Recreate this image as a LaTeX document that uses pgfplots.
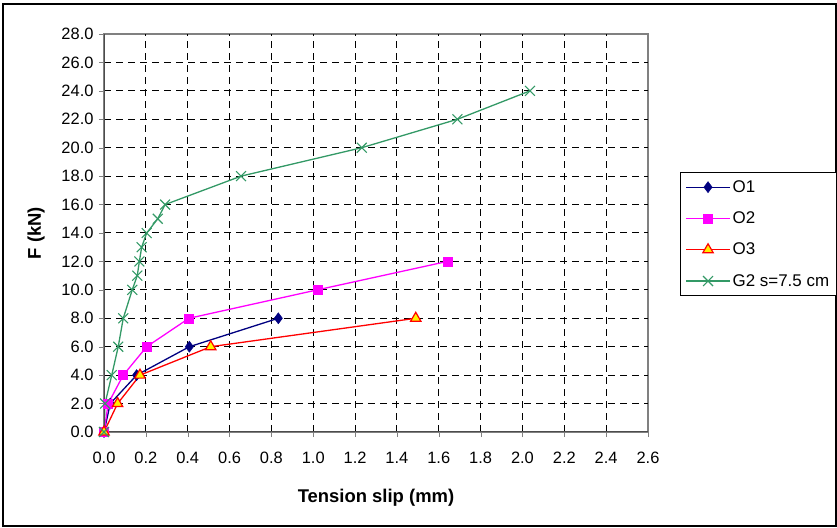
\documentclass[border=0pt]{standalone}
\usepackage{fontspec}
\setmainfont{Liberation Sans}
\usepackage{pgfplots}
\pgfplotsset{compat=1.18}

\definecolor{oone}{RGB}{0,0,128}
\definecolor{otwo}{RGB}{255,0,255}
\definecolor{othree}{RGB}{255,0,0}
\definecolor{gtwo}{RGB}{51,153,102}

\begin{document}
\begin{tikzpicture}
\useasboundingbox (0,0) rectangle (837bp,528bp);
\draw[black, line width=1.2bp] (3bp,2bp) rectangle (836bp,524bp);
\begin{axis}[
  at={(104bp,96bp)}, anchor=south west,
  scale only axis, width=544bp, height=398bp,
  xmin=0, xmax=2.6, ymin=0, ymax=28,
  xtick={0,0.2,0.4,0.6,0.8,1.0,1.2,1.4,1.6,1.8,2.0,2.2,2.4,2.6},
  ytick={0,2,4,6,8,10,12,14,16,18,20,22,24,26,28},
  /pgf/number format/assume math mode=true,
  /pgf/number format/fixed,
  /pgf/number format/fixed zerofill,
  /pgf/number format/precision=1,
  tick label style={font=\fontsize{16.5}{18}\selectfont},
  xticklabel style={yshift=-12bp},
  yticklabel style={xshift=-2bp},
  xtick pos=bottom, ytick pos=left, tick align=outside,
  major tick length=5bp,
  % grid drawn as long inward extra ticks
  extra x ticks={0.2,0.4,0.6,0.8,1.0,1.2,1.4,1.6,1.8,2.0,2.2,2.4},
  extra y ticks={2,4,6,8,10,12,14,16,18,20,22,24,26},
  extra x tick style={xticklabel={}, tick align=inside, major tick length=398bp,
    tick style={black, line width=1bp, dash pattern=on 7bp off 5bp}},
  extra y tick style={yticklabel={}, tick align=inside, major tick length=544bp,
    tick style={black, line width=1bp, dash pattern=on 7bp off 5bp}},
  axis line style={draw=gray, line width=1.5bp},
  xlabel={\bfseries Tension slip (mm)},
  ylabel={\bfseries F (kN)},
  label style={font=\fontsize{18.5}{20}\selectfont},
  xlabel style={yshift=-13bp},
  ylabel style={yshift=5bp},
  legend style={at={(1.0588,0.653)}, anchor=north west, draw=black, line width=0.8bp,
    font=\fontsize{17}{19}\selectfont, row sep=14bp, inner xsep=5bp, inner ysep=6bp,
    cells={anchor=west}},
  legend image code/.code={%
    \draw[mark repeat=2, mark phase=2] plot coordinates {(0bp,0bp) (22bp,0bp) (44bp,0bp)};},
  every axis plot/.append style={line width=1.3bp},
]
\addplot[color=oone, mark=diamond*, mark size=5.5bp, mark options={fill=oone, line width=0.5bp}]
  coordinates {(0,0) (0.03,2) (0.156,4) (0.408,6) (0.833,8)};
\addlegendentry{O1}
\addplot[color=otwo, mark=square*, mark size=4.5bp, mark options={fill=otwo, line width=0.5bp}]
  coordinates {(0,0) (0.02,2) (0.092,4) (0.204,6) (0.406,8) (1.02,10) (1.641,12)};
\addlegendentry{O2}
\addplot[color=othree, mark=triangle*, mark size=6bp, mark options={fill=yellow, draw=othree, line width=1.2bp}]
  coordinates {(0,0) (0.065,2) (0.172,4) (0.51,6) (1.49,8)};
\addlegendentry{O3}
\addplot[color=gtwo, mark=x, mark size=7bp, mark options={line width=1.1bp}]
  coordinates {(0,0) (0.005,2) (0.037,4) (0.068,6) (0.092,8) (0.135,10) (0.159,11)
    (0.169,12) (0.18,13) (0.204,14) (0.257,15) (0.292,16) (0.655,18) (1.232,20)
    (1.689,22) (2.036,24)};
\addlegendentry{G2 s=7.5 cm}
\draw[line width=2bp, black!70] (rel axis cs:0,1) -- (rel axis cs:0,0) -- (rel axis cs:1,0);
\end{axis}
\end{tikzpicture}
\end{document}
